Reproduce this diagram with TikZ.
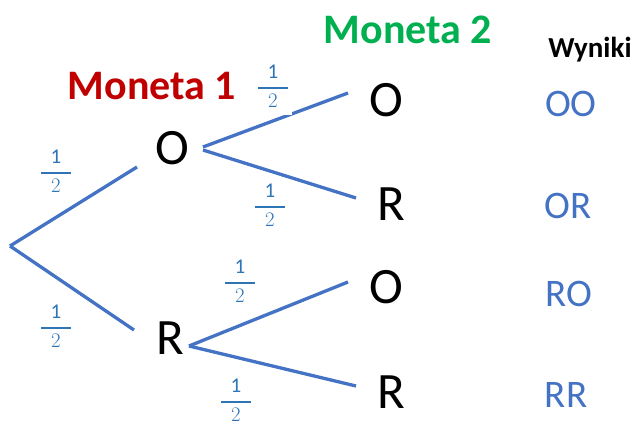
\documentclass[tikz,border=0pt]{standalone}
\usepackage{amsmath}
\usepackage{fontspec}
\setmainfont{Carlito}
\usetikzlibrary{calc}

\definecolor{branch}{HTML}{4472C4}
\definecolor{probblue}{HTML}{2E75B6}
\definecolor{coinred}{HTML}{C00000}
\definecolor{coingreen}{HTML}{00B050}

% probability one half with a wide fraction bar
\newcommand{\halfprob}{\ensuremath{\genfrac{}{}{1.5pt}{0}{\makebox[30pt]{1}}{2}}}

\tikzset{
  edge/.style={draw=branch, line width=3.3pt},
  outcome/.style={font=\fontsize{51}{56}\selectfont, text=black, inner sep=0pt},
  result/.style={font=\fontsize{39}{44}\selectfont, text=branch, inner sep=0pt},
  prob/.style={font=\fontsize{21}{24}\selectfont, text=probblue, fill=white, inner xsep=3pt, inner ysep=1pt, anchor=base},
  heading/.style={font=\bfseries\fontsize{42}{46}\selectfont, inner sep=0pt}
}

\begin{document}
\begin{tikzpicture}[x=1pt, y=-1pt]
  \useasboundingbox (0,0) rectangle (638,426);

  % headings
  \node[heading, text=coinred]   (h1) at (152,86) {Moneta 1};
  \node[heading, text=coingreen] (h2) at (408,30) {Moneta 2};
  \node[heading, font=\bfseries\fontsize{29}{32}\selectfont, anchor=base] (h3) at (590,57) {Wyniki};

  % outcomes of the first coin
  \node[outcome] (o1) at (172,148) {O};
  \node[outcome] (r1) at (170,338) {R};

  % outcomes of the second coin
  \node[outcome] (o2a) at (386,100) {O};
  \node[outcome] (r2a) at (391,204) {R};
  \node[outcome] (o2b) at (386,287) {O};
  \node[outcome] (r2b) at (391,392) {R};

  % results
  \node[result] (oo) at (571,104) {OO};
  \node[result] (or) at (568,206) {OR};
  \node[result] (ro) at (569,294) {RO};
  \node[result] (rr) at (566,395) {RR};

  % branch end points
  \coordinate (root) at (10,246);
  \coordinate (o1in)  at (137,167);
  \coordinate (r1in)  at (134,330);
  \coordinate (o1outa) at (203,147);
  \coordinate (o1outb) at (203,150);
  \coordinate (r1out) at (189,346);
  \coordinate (o2ain) at (348,93);
  \coordinate (r2ain) at (356,198);
  \coordinate (o2bin) at (348,282);
  \coordinate (r2bin) at (356,386);

  % branches
  \draw[edge] (root) -- (o1in);
  \draw[edge] (root) -- (r1in);
  \draw[edge] (o1outa) -- (o2ain);
  \draw[edge] (o1outb) -- (r2ain);
  \draw[edge] (r1out) -- (o2bin);
  \draw[edge] (r1out) -- (r2bin);

  % probabilities (base line sits one axis height below the bar)
  \node[prob] (p1) at (56,178) {\halfprob};
  \node[prob] (p2) at (56,333) {\halfprob};
  \node[prob, inner ysep=8pt] (p3) at (273,93) {\halfprob};
  \node[prob] (p4) at (270,212) {\halfprob};
  \node[prob] (p5) at (240,288) {\halfprob};
  \node[prob] (p6) at (236,407) {\halfprob};
\end{tikzpicture}
\end{document}
